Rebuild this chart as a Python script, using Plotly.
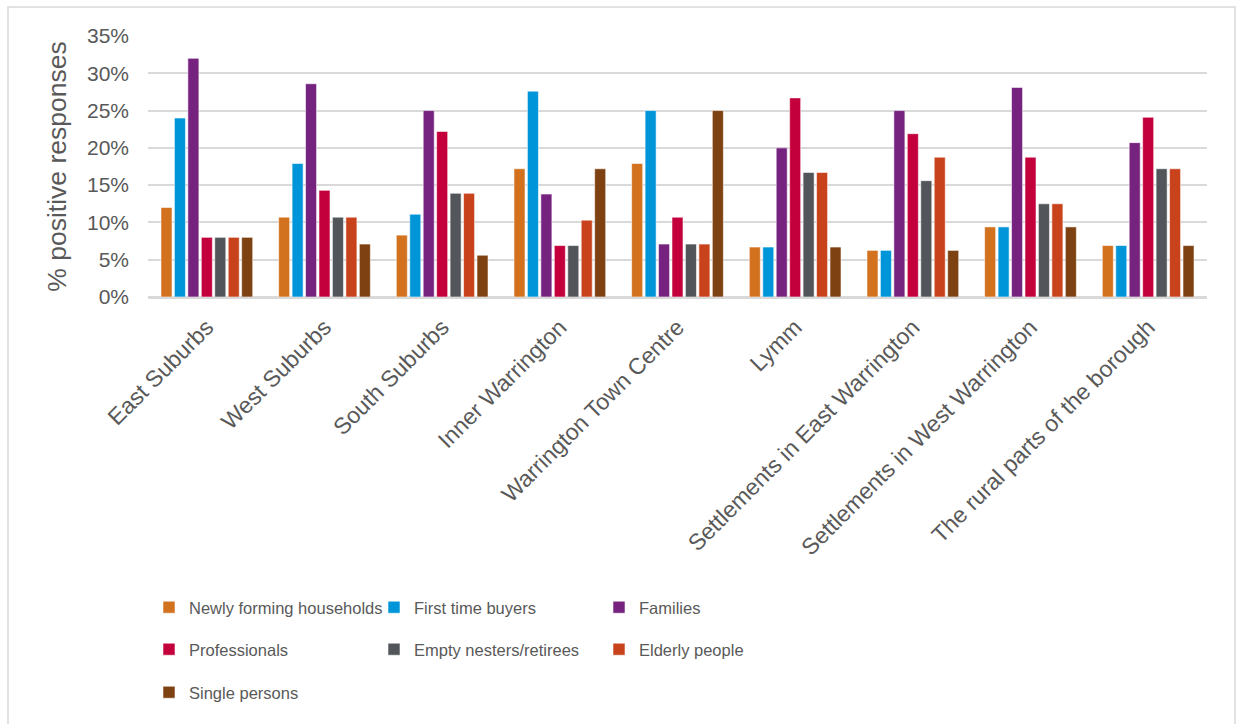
import plotly.graph_objects as go

categories = ["East Suburbs", "West Suburbs", "South Suburbs", "Inner Warrington",
              "Warrington Town Centre", "Lymm", "Settlements in East Warrington",
              "Settlements in West Warrington", "The rural parts of the borough"]

newly_forming = [12.0, 10.7, 8.3, 17.2, 17.9, 6.7, 6.25, 9.4, 6.9]
first_time = [24.0, 17.9, 11.1, 27.6, 25.0, 6.7, 6.25, 9.4, 6.9]
families = [32.0, 28.6, 25.0, 13.8, 7.1, 20.0, 25.0, 28.1, 20.7]
professionals = [8.0, 14.3, 22.2, 6.9, 10.7, 26.7, 21.9, 18.75, 24.1]
empty_nesters = [8.0, 10.7, 13.9, 6.9, 7.1, 16.7, 15.6, 12.5, 17.2]
elderly = [8.0, 10.7, 13.9, 10.3, 7.1, 16.7, 18.75, 12.5, 17.2]
single = [8.0, 7.1, 5.6, 17.2, 25.0, 6.7, 6.25, 9.4, 6.9]

series = [
    ("Newly forming households", newly_forming, "#D2711E", "legend"),
    ("First time buyers", first_time, "#0095D8", "legend"),
    ("Families", families, "#76237F", "legend"),
    ("Professionals", professionals, "#C3003C", "legend2"),
    ("Empty nesters/retirees", empty_nesters, "#525559", "legend2"),
    ("Elderly people", elderly, "#C8421C", "legend2"),
    ("Single persons", single, "#7E4212", "legend3"),
]

W, H = 1242, 724
ml, mr, mt, mb = 148, 35, 36, 427
pw = W - ml - mr
ph = H - mt - mb

fig = go.Figure()
for name, vals, color, lg in series:
    fig.add_trace(go.Bar(
        x=categories, y=[v / 100 for v in vals], name=name,
        marker=dict(color=color, line=dict(color="rgba(255,255,255,0.55)", width=1)),
        legend=lg,
    ))

def px_x(p):
    return (p - ml) / pw

def px_y(p):
    return (H - mb - p) / ph

txt = "#595959"
font = "Liberation Sans, Arial, sans-serif"

legend_common = dict(orientation="h", xanchor="left", yanchor="top",
                     font=dict(size=16.5, color=txt, family=font),
                     entrywidth=180, entrywidthmode="pixels",
                     bgcolor="rgba(0,0,0,0)", itemclick=False, traceorder="normal")

fig.update_layout(
    width=W, height=H,
    margin=dict(l=ml, r=mr, t=mt, b=mb),
    paper_bgcolor="white", plot_bgcolor="white",
    barmode="group", bargap=0.2, bargroupgap=0.18,
    font=dict(family=font, color=txt),
    yaxis=dict(range=[0, 0.35], dtick=0.05, tickformat=".0%",
               tickfont=dict(size=21, color=txt), showgrid=True,
               gridcolor="#D9D9D9", gridwidth=1.5, zeroline=True,
               zerolinecolor="#D9D9D9", zerolinewidth=1.5, showline=False,
               ticks="", ticklabelstandoff=18,
               title=dict(text="% positive responses", font=dict(size=26.5, color=txt), standoff=12)),
    xaxis=dict(tickangle=-45, tickfont=dict(size=23, color=txt), showgrid=False,
               showline=True, linecolor="#D9D9D9", linewidth=1.5, ticks="",
               ticklabelstandoff=6),
    legend=dict(x=px_x(149), y=px_y(590), **legend_common),
    legend2=dict(x=px_x(149), y=px_y(632), **legend_common),
    legend3=dict(x=px_x(149), y=px_y(675), **legend_common),
    shapes=[dict(type="rect", xref="paper", yref="paper",
                 x0=px_x(8), x1=px_x(1235), y0=px_y(740), y1=px_y(7),
                 line=dict(color="#D9D9D9", width=1.5), fillcolor="rgba(0,0,0,0)", layer="below")],
)

fig.write_html("out.html", config={"displayModeBar": False},
               post_script="document.body.style.margin='0';document.body.style.overflow='hidden';")
